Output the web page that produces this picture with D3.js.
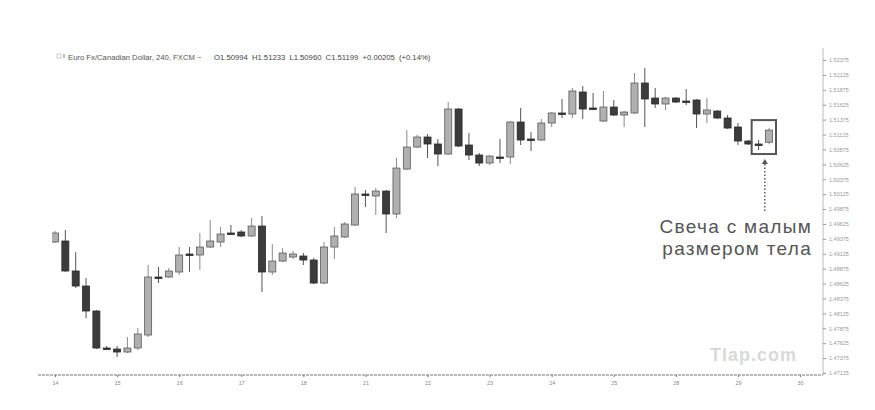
<!DOCTYPE html>
<html><head><meta charset="utf-8">
<script src="https://cdn.jsdelivr.net/npm/d3@7/dist/d3.min.js"></script>
<style>body{margin:0;background:#fff}svg{display:block}</style>
</head><body>
<svg id="c" width="875" height="410"></svg>
<script>
const opens  = [1.49322,1.49339,1.48836,1.48584,1.48165,1.47544,1.47527,1.47477,1.47544,1.47762,1.48735,1.48735,1.48819,1.49121,1.49104,1.49238,1.49322,1.49473,1.49490,1.49423,1.49590,1.48819,1.49003,1.49070,1.49087,1.49020,1.48634,1.49238,1.49406,1.49607,1.50127,1.50094,1.50177,1.49792,1.50546,1.50915,1.51083,1.50966,1.50798,1.51553,1.50949,1.50781,1.50647,1.50748,1.50748,1.51335,1.51050,1.51033,1.51318,1.51486,1.51469,1.51838,1.51570,1.51351,1.51586,1.51452,1.51486,1.51989,1.51737,1.51637,1.51737,1.51687,1.51704,1.51469,1.51519,1.51402,1.51251,1.51016,1.50966,1.50994];
const highs  = [1.49506,1.49523,1.49154,1.48718,1.48181,1.47578,1.47578,1.47728,1.47880,1.48936,1.48903,1.48886,1.49238,1.49238,1.49473,1.49691,1.49574,1.49607,1.49523,1.49725,1.49758,1.49288,1.49221,1.49171,1.49137,1.49054,1.49322,1.49574,1.49657,1.50244,1.50194,1.50228,1.50194,1.50731,1.51200,1.51117,1.51133,1.51050,1.51670,1.51570,1.51150,1.50815,1.50781,1.51050,1.51351,1.51570,1.51167,1.51385,1.51502,1.51721,1.51905,1.51939,1.51821,1.51855,1.51704,1.51519,1.52157,1.52240,1.51905,1.51754,1.51754,1.51888,1.51721,1.51737,1.51536,1.51452,1.51318,1.51033,1.51033,1.51233];
const lows   = [1.49305,1.48819,1.48550,1.48047,1.47527,1.47510,1.47393,1.47460,1.47510,1.47728,1.48634,1.48718,1.48768,1.48819,1.48852,1.49221,1.49238,1.49439,1.49406,1.49406,1.48483,1.48768,1.48986,1.49037,1.48936,1.48617,1.48617,1.49037,1.49389,1.49590,1.49909,1.49775,1.49473,1.49725,1.50530,1.50899,1.50731,1.50597,1.50781,1.50915,1.50697,1.50597,1.50613,1.50647,1.50630,1.50949,1.50848,1.51016,1.51251,1.51402,1.51402,1.51385,1.51536,1.51335,1.51435,1.51251,1.51469,1.51251,1.51570,1.51536,1.51653,1.51620,1.51234,1.51318,1.51385,1.51217,1.50949,1.50949,1.50865,1.50960];
const closes = [1.49473,1.48836,1.48584,1.48165,1.47544,1.47527,1.47477,1.47544,1.47779,1.48735,1.48718,1.48836,1.49104,1.49104,1.49238,1.49339,1.49456,1.49456,1.49423,1.49590,1.48819,1.49003,1.49137,1.49121,1.49020,1.48634,1.49238,1.49423,1.49624,1.50127,1.50110,1.50177,1.49792,1.50563,1.50915,1.51083,1.50966,1.50798,1.51553,1.50932,1.50781,1.50647,1.50764,1.50731,1.51335,1.51033,1.51033,1.51318,1.51486,1.51469,1.51855,1.51553,1.51553,1.51586,1.51452,1.51502,1.51989,1.51721,1.51637,1.51737,1.51670,1.51670,1.51469,1.51536,1.51402,1.51234,1.51016,1.50966,1.50949,1.51199];
const dayLabels = ["14","15","16","17","18","21","22","23","24","25","28","29","30"];
const dayIndex  = [0,6,12,18,24,30,36,42,48,54,60,66,72];
const yTicks = [1.52375,1.52125,1.51875,1.51625,1.51375,1.51125,1.50875,1.50625,1.50375,1.50125,1.49875,1.49625,1.49375,1.49125,1.48875,1.48625,1.48375,1.48125,1.47875,1.47625,1.47375,1.47125];
const titleText = "Euro Fx/Canadian Dollar, 240, FXCM ~";
const ohlcText = "O1.50994 H1.51233 L1.50960 C1.51199 +0.00205 (+0.14%)";
const noteLines = ["Свеча с малым","размером тела"];
const highlighted = [68, 69];

const svg = d3.select("#c");
const plotL = 52, plotR = 823, plotT = 48, plotB = 375;
const x = d3.scaleLinear().domain([0, 69]).range([55, 769]);
const y = d3.scaleLinear().domain([1.47125, 1.52375]).range([373, 60]);

svg.append("defs").append("clipPath").attr("id","clip")
  .append("rect").attr("x",plotL).attr("y",plotT).attr("width",plotR-plotL).attr("height",plotB-plotT);

// header
const hdr = svg.append("g").attr("font-family","Liberation Sans, Arial, sans-serif").attr("font-size",7.7).attr("fill","#555");
hdr.append("rect").attr("x",57).attr("y",54).attr("width",4).attr("height",4).attr("fill","none").attr("stroke","#aaa").attr("stroke-width",0.6);
hdr.append("rect").attr("x",63).attr("y",54).attr("width",2).attr("height",4).attr("fill","#bbb");
hdr.append("text").attr("x",68).attr("y",60).text(titleText);
hdr.append("text").attr("x",214).attr("y",60).attr("fill","#444").attr("word-spacing",2).text(ohlcText);

// candles
const data = opens.map((o,i)=>({i,o,h:highs[i],l:lows[i],c:closes[i]}));
const bw = 7;
const g = svg.append("g").attr("clip-path","url(#clip)");
const cs = g.selectAll("g.c").data(data).join("g");
cs.append("line")
  .attr("x1",d=>x(d.i)).attr("x2",d=>x(d.i))
  .attr("y1",d=>y(d.h)).attr("y2",d=>y(d.l))
  .attr("stroke",d=>d.c>=d.o?"#8a8a8a":"#555").attr("stroke-width",1);
cs.append("rect")
  .attr("x",d=>x(d.i)-bw/2).attr("width",bw)
  .attr("y",d=>y(Math.max(d.o,d.c)))
  .attr("height",d=>Math.max(1.5, Math.abs(y(d.o)-y(d.c))))
  .attr("fill",d=>d.c>=d.o?"#b0b0b0":"#3c3c3c")
  .attr("stroke",d=>d.c>=d.o?"#5a5a5a":"#2a2a2a").attr("stroke-width",0.8);

// right axis
const ya = svg.append("g").attr("transform",`translate(${plotR},0)`)
  .call(d3.axisRight(y).tickValues(yTicks).tickSize(3).tickPadding(3).tickFormat(d3.format(".5f")));
ya.select(".domain").attr("stroke","#bbb").attr("d",`M0,${plotT}V${plotB}`);
ya.selectAll(".tick line").attr("stroke","#999");
ya.selectAll("text").attr("font-size",5.5).attr("fill","#999").attr("font-family","Liberation Sans, Arial, sans-serif");

// bottom axis
const xa = svg.append("g").attr("transform",`translate(0,${plotB})`)
  .call(d3.axisBottom(x).tickValues(dayIndex).tickSize(2).tickPadding(4).tickFormat((d,k)=>dayLabels[k]));
xa.select(".domain").attr("stroke","#777").attr("stroke-width",1.2).attr("stroke-dasharray","3,1").attr("d",`M38,0H${plotR}`);
xa.selectAll(".tick line").attr("stroke","#777");
xa.selectAll("text").attr("font-size",5.5).attr("fill","#888").attr("font-family","Liberation Sans, Arial, sans-serif");

// highlight box around small-body candles
const hx0 = x(highlighted[0]) - 7, hx1 = x(highlighted[1]) + 7;
const hy0 = y(d3.max(highlighted,k=>highs[k])) - 8, hy1 = y(d3.min(highlighted,k=>lows[k])) + 4;
svg.append("rect").attr("x",hx0).attr("y",hy0).attr("width",hx1-hx0).attr("height",hy1-hy0)
  .attr("fill","none").attr("stroke","#555").attr("stroke-width",2);

// dotted arrow
const ax = (x(highlighted[0])+x(highlighted[1]))/2 + 1;
svg.append("line").attr("x1",ax).attr("x2",ax).attr("y1",hy1+10).attr("y2",212)
  .attr("stroke","#666").attr("stroke-width",1.6).attr("stroke-dasharray","1.5,2");
svg.append("path").attr("d",`M${ax-3},${hy1+10}L${ax},${hy1+5}L${ax+3},${hy1+10}Z`).attr("fill","#555");

// annotation text
const nt = svg.append("g").attr("font-family","Liberation Sans, Arial, sans-serif").attr("font-size",19).attr("letter-spacing",1.3).attr("fill","#555").attr("text-anchor","end");
nt.selectAll("text").data(noteLines).join("text")
  .attr("x",812).attr("y",(d,k)=>233+k*22).text(d=>d);

// watermark
svg.append("text").attr("x",797).attr("y",361).attr("text-anchor","end")
  .attr("font-family","Liberation Sans, Arial, sans-serif").attr("font-size",18).attr("font-weight","bold")
  .attr("letter-spacing",1).attr("fill","#d9d9d9").text("Tlap.com");
</script>
</body></html>
